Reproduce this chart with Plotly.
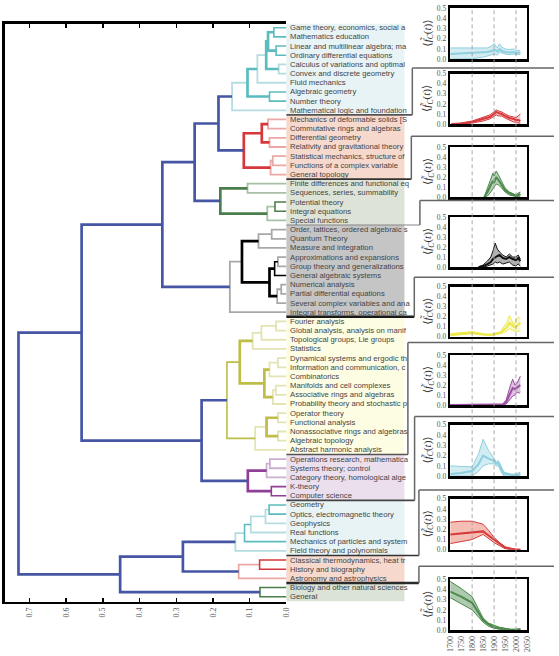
import plotly.graph_objects as go

W, H = 559, 656

# ---------------- data ----------------
leaf_labels = [
    "Game theory, economics, social a", "Mathematics education",
    "Linear and multilinear algebra; ma", "Ordinary differential equations",
    "Calculus of variations and optimal", "Convex and discrete geometry",
    "Fluid mechanics", "Algebraic geometry", "Number theory",
    "Mathematical logic and foundation",
    "Mechanics of deformable solids [S", "Commutative rings and algebras",
    "Differential geometry", "Relativity and gravitational theory",
    "Statistical mechanics, structure of", "Functions of a complex variable",
    "General topology",
    "Finite differences and functional eq", "Sequences, series, summability",
    "Potential theory", "Integral equations", "Special functions",
    "Order, lattices, ordered algebraic s", "Quantum Theory",
    "Measure and integration", "Approximations and expansions",
    "Group theory and generalizations", "General algebraic systems",
    "Numerical analysis", "Partial differential equations",
    "Several complex variables and ana", "Integral transforms, operational ca",
    "Fourier analysis", "Global analysis, analysis on manif",
    "Topological groups, Lie groups", "Statistics",
    "Dynamical systems and ergodic th", "Information and communication, c",
    "Combinatorics", "Manifolds and cell complexes",
    "Associative rings and algebras", "Probability theory and stochastic p",
    "Operator theory", "Functional analysis",
    "Nonassociative rings and algebras", "Algebraic topology",
    "Abstract harmonic analysis",
    "Operations research, mathematica", "Systems theory; control",
    "Category theory, homological alge", "K-theory", "Computer science",
    "Geometry", "Optics, electromagnetic theory", "Geophysics",
    "Real functions", "Mechanics of particles and system",
    "Field theory and polynomials",
    "Classical thermodynamics, heat tr", "History and biography",
    "Astronomy and astrophysics",
    "Biology and other natural sciences", "General",
]
group_sizes = [10, 7, 5, 10, 15, 5, 6, 3, 2]

# linkage: (node name, left child, right child, merge distance)
merges = [
    ("g1a", 0, 1, 0.034), ("g1b", 2, 3, 0.028), ("g1ab", "g1a", "g1b", 0.050),
    ("g1c", 4, 5, 0.021), ("g1abc", "g1ab", "g1c", 0.055),
    ("g1d", "g1abc", 6, 0.079), ("g1e", 7, 8, 0.046),
    ("g1f", "g1d", "g1e", 0.106), ("g1", "g1f", 9, 0.148),
    ("g2a", 10, 11, 0.050), ("g2b", 12, 13, 0.046), ("g2c", "g2a", "g2b", 0.067),
    ("g2d", 14, 15, 0.037), ("g2e", "g2d", 16, 0.043), ("g2", "g2c", "g2e", 0.116),
    ("g3a", 17, 18, 0.106), ("g3b", 19, 20, 0.031), ("g3c", "g3b", 21, 0.052),
    ("g3", "g3a", "g3c", 0.180),
    ("g4a", 22, 23, 0.040), ("g4b", "g4a", 24, 0.076), ("g4c", 25, 26, 0.023),
    ("g4d", "g4c", 27, 0.032), ("g4e", 28, 29, 0.014), ("g4f", "g4e", 30, 0.025),
    ("g4g", "g4d", "g4f", 0.046), ("g4h", "g4b", "g4g", 0.121),
    ("g4", "g4h", 31, 0.154),
    ("g5a", 32, 33, 0.028), ("g5b", "g5a", 34, 0.068), ("g5c", "g5b", 35, 0.092),
    ("g5d", 36, 37, 0.023), ("g5e", "g5d", 38, 0.046), ("g5f", 39, 40, 0.029),
    ("g5g", "g5f", 41, 0.037), ("g5h", "g5e", "g5g", 0.060),
    ("g5i", "g5c", "g5h", 0.127), ("g5j", 42, 43, 0.023), ("g5k", 44, 45, 0.023),
    ("g5l", "g5j", "g5k", 0.054), ("g5m", "g5l", 46, 0.085),
    ("g5", "g5i", "g5m", 0.162),
    ("g6a", 47, 48, 0.045), ("g6b", "g6a", 49, 0.054), ("g6c", 50, 51, 0.041),
    ("g6", "g6b", "g6c", 0.105),
    ("g7a", 52, 53, 0.047), ("g7b", "g7a", 54, 0.057), ("g7c", "g7b", 55, 0.097),
    ("g7d", "g7c", 56, 0.114), ("g7", "g7d", 57, 0.139),
    ("g8a", 58, 59, 0.073), ("g8", "g8a", 60, 0.130),
    ("g9", 61, 62, 0.072),
    ("D", "g1", "g2", 0.185), ("C", "D", "g3", 0.250), ("B", "C", "g4", 0.338),
    ("E", "g5", "g6", 0.231), ("A", "B", "E", 0.558),
    ("G", "g7", "g8", 0.282), ("F", "G", "g9", 0.453),
    ("root", "A", "F", 0.730),
]

dendro_ticks = [0.0, 0.1, 0.2, 0.3, 0.4, 0.5, 0.6, 0.7]
dendro_ticktext = ["0.0", "0.1", "0.2", "0.3", "0.4", "0.5", "0.6", "0.7"]

# time series per cluster: year, mean, lower, upper
p1_year = [1700, 1750, 1800, 1850, 1870, 1890, 1900, 1908, 1915, 1925, 1935, 1950, 1970, 1990, 2000, 2010, 2020]
p1_mean = [0.05, 0.055, 0.06, 0.065, 0.07, 0.08, 0.09, 0.085, 0.075, 0.10, 0.08, 0.07, 0.065, 0.07, 0.06, 0.065, 0.06]
p1_lo = [0.0, 0.0, 0.005, 0.02, 0.03, 0.04, 0.05, 0.045, 0.04, 0.07, 0.06, 0.05, 0.045, 0.05, 0.045, 0.05, 0.045]
p1_hi = [0.11, 0.11, 0.105, 0.105, 0.11, 0.13, 0.155, 0.13, 0.11, 0.15, 0.12, 0.10, 0.095, 0.10, 0.08, 0.09, 0.08]

p2_year = [1705, 1750, 1800, 1850, 1880, 1900, 1910, 1920, 1935, 1950, 1970, 1990, 2000, 2010, 2020]
p2_mean = [0.0, 0.005, 0.02, 0.05, 0.07, 0.10, 0.12, 0.11, 0.10, 0.08, 0.06, 0.05, 0.04, 0.04, 0.03]
p2_lo = [0.0, 0.0, 0.01, 0.03, 0.05, 0.08, 0.09, 0.08, 0.08, 0.06, 0.04, 0.02, 0.02, 0.01, 0.01]
p2_hi = [0.0, 0.01, 0.03, 0.07, 0.09, 0.12, 0.14, 0.13, 0.12, 0.10, 0.08, 0.07, 0.06, 0.08, 0.10]

p3_year = [1855, 1870, 1885, 1895, 1900, 1910, 1920, 1935, 1950, 1970, 1990, 2000, 2010, 2020]
p3_mean = [0.0, 0.05, 0.12, 0.16, 0.14, 0.20, 0.17, 0.12, 0.07, 0.04, 0.02, 0.01, 0.02, 0.03]
p3_lo = [0.0, 0.01, 0.05, 0.09, 0.10, 0.13, 0.12, 0.09, 0.05, 0.02, 0.01, 0.0, 0.0, 0.01]
p3_hi = [0.0, 0.09, 0.19, 0.24, 0.21, 0.26, 0.22, 0.15, 0.09, 0.05, 0.03, 0.02, 0.04, 0.05]

p4_year = [1830, 1850, 1870, 1885, 1895, 1905, 1915, 1925, 1940, 1955, 1970, 1985, 2000, 2010, 2020]
p4_mean = [0.0, 0.01, 0.03, 0.05, 0.08, 0.10, 0.11, 0.12, 0.09, 0.08, 0.10, 0.08, 0.07, 0.09, 0.06]
p4_lo = [0.0, 0.0, 0.01, 0.02, 0.03, 0.05, 0.04, 0.05, 0.03, 0.04, 0.05, 0.02, 0.01, 0.03, 0.01]
p4_hi = [0.0, 0.02, 0.06, 0.10, 0.16, 0.24, 0.18, 0.15, 0.12, 0.10, 0.13, 0.10, 0.10, 0.12, 0.08]

p5_year = [1700, 1750, 1800, 1830, 1860, 1890, 1910, 1930, 1945, 1960, 1970, 1980, 1990, 2000, 2010, 2015, 2020]
p5_mean = [0.02, 0.03, 0.04, 0.03, 0.02, 0.02, 0.03, 0.04, 0.07, 0.10, 0.14, 0.12, 0.10, 0.10, 0.12, 0.13, 0.14]
p5_lo = [0.01, 0.02, 0.03, 0.02, 0.015, 0.015, 0.02, 0.03, 0.04, 0.06, 0.08, 0.07, 0.06, 0.05, 0.06, 0.05, 0.05]
p5_hi = [0.03, 0.04, 0.05, 0.04, 0.025, 0.025, 0.04, 0.05, 0.10, 0.15, 0.21, 0.17, 0.12, 0.16, 0.20, 0.19, 0.18]

p6_year = [1700, 1800, 1900, 1940, 1955, 1965, 1975, 1985, 1995, 2005, 2015, 2020]
p6_mean = [0.0, 0.0, 0.0, 0.005, 0.03, 0.08, 0.13, 0.17, 0.16, 0.18, 0.19, 0.20]
p6_lo = [0.0, 0.0, 0.0, 0.0, 0.01, 0.04, 0.07, 0.09, 0.10, 0.13, 0.12, 0.13]
p6_hi = [0.005, 0.005, 0.005, 0.01, 0.05, 0.13, 0.20, 0.26, 0.20, 0.22, 0.27, 0.29]

p7_year = [1700, 1750, 1800, 1830, 1850, 1875, 1900, 1910, 1920, 1930, 1945, 1960, 1980, 2000, 2020]
p7_mean = [0.02, 0.03, 0.05, 0.12, 0.20, 0.17, 0.15, 0.12, 0.13, 0.08, 0.02, 0.02, 0.01, 0.01, 0.02]
p7_lo = [0.0, 0.0, 0.0, 0.05, 0.10, 0.12, 0.12, 0.10, 0.10, 0.05, 0.0, 0.0, 0.0, 0.0, 0.01]
p7_hi = [0.10, 0.095, 0.09, 0.22, 0.36, 0.25, 0.17, 0.14, 0.15, 0.10, 0.04, 0.03, 0.02, 0.02, 0.04]

p8_year = [1700, 1750, 1800, 1850, 1875, 1900, 1925, 1950, 1975, 2000, 2020]
p8_mean = [0.15, 0.16, 0.17, 0.18, 0.14, 0.10, 0.06, 0.02, 0.01, 0.0, 0.0]
p8_lo = [0.06, 0.08, 0.10, 0.15, 0.11, 0.07, 0.04, 0.01, 0.0, 0.0, 0.0]
p8_hi = [0.27, 0.28, 0.28, 0.25, 0.19, 0.12, 0.07, 0.03, 0.015, 0.005, 0.005]

p9_year = [1700, 1750, 1800, 1825, 1850, 1875, 1900, 1925, 1950, 1975, 2000, 2020]
p9_mean = [0.38, 0.33, 0.27, 0.18, 0.10, 0.06, 0.03, 0.02, 0.01, 0.005, 0.005, 0.01]
p9_lo = [0.32, 0.26, 0.20, 0.14, 0.08, 0.04, 0.02, 0.01, 0.0, 0.0, 0.0, 0.005]
p9_hi = [0.48, 0.41, 0.33, 0.22, 0.12, 0.07, 0.05, 0.03, 0.02, 0.01, 0.01, 0.015]

panel_y_ticks = [0.0, 0.1, 0.2, 0.3, 0.4, 0.5]
panel_y_ticktext = ["0.0", "0.1", "0.2", "0.3", "0.4", "0.5"]
panel_x_ticks = [1700, 1750, 1800, 1850, 1900, 1950, 2000, 2050]
panel_x_ticktext = ["1700", "1750", "1800", "1850", "1900", "1950", "2000", "2050"]
guide_years = [1800, 1900, 2000]

# ---------------- styles ----------------
link_level = {
    "g1a": "m", "g1b": "m", "g1ab": "s", "g1c": "l", "g1abc": "s", "g1d": "l",
    "g1e": "m", "g1f": "s", "g1": "l",
    "g2a": "l", "g2b": "l", "g2c": "s", "g2d": "l", "g2e": "l", "g2": "s",
    "g3a": "l", "g3b": "m", "g3c": "l", "g3": "s",
    "g4a": "l", "g4b": "l", "g4c": "l", "g4d": "m", "g4e": "l", "g4f": "l",
    "g4g": "s", "g4h": "s", "g4": "l",
    "g5a": "l", "g5b": "l", "g5c": "l", "g5d": "l", "g5e": "l", "g5f": "l",
    "g5g": "l", "g5h": "s", "g5i": "s", "g5j": "l", "g5k": "l", "g5l": "s",
    "g5m": "l", "g5": "m",
    "g6a": "l", "g6b": "l", "g6c": "m", "g6": "s",
    "g7a": "m", "g7b": "l", "g7c": "l", "g7d": "m", "g7": "l",
    "g8a": "m", "g8": "l", "g9": "m",
}
group_strong = {1: "#5bbcbf", 2: "#d6373a", 3: "#4a7e4a", 4: "#000000",
                5: "#bdbd47", 6: "#8f3f96", 7: "#5bbcbf", 8: "#d6373a", 9: "#4a7e4a"}
group_light = {1: "#b5dde1", 2: "#eca8a5", 3: "#a8c0a5", 4: "#a8a8a8",
               5: "#e3e3b3", 6: "#ccaed0", 7: "#b5dde1", 8: "#eca8a5", 9: "#a8c0a5"}
top_color = "#4656a5"
label_bg = ["#e8f3f5", "#f6d9cc", "#dde3d6", "#c5c5c5", "#fdfde3",
            "#ebdfee", "#e8f3f5", "#f6d9cc", "#dbe2d6"]

panel_line = ["#8ecfdf", "#d63a3c", "#4c8a4b", "#111111", "#ece84a",
              "#9c4fa1", "#8ecfdf", "#d63a3c", "#4c8a4b"]
panel_fill = ["rgba(142,207,223,0.40)", "rgba(214,58,60,0.28)", "rgba(76,138,75,0.40)",
              "rgba(0,0,0,0.30)", "rgba(236,232,74,0.30)", "rgba(156,79,161,0.35)",
              "rgba(142,207,223,0.40)", "rgba(232,110,90,0.45)", "rgba(76,138,75,0.45)"]
# panel pixel boxes (top, bottom)
panel_px = [(4, 56), (70.7, 121.7), (145, 195.7), (216, 266.7), (286.7, 337.3),
            (356, 406.7), (426.7, 478.7), (501.7, 553.3), (583.3, 635)]
panel_x_px = (453.5, 531.5)
gap_px = [65, 134, 199.3, 277, 343.3, 418.3, 492.7, 570]
conn_x_px = [415, 414, 422.7, 417, 410.5, 417.3, 421.7, 421.7]
conn_style = [("#555555", 1.6), ("#333333", 1.6), ("#888888", 1.2), ("#1a1a1a", 2.4),
              ("#555555", 1.6), ("#444444", 1.6), ("#333333", 1.6), ("#2a2a2a", 2.6)]

# dendrogram axes placement
d_x_px = (1, 287)
d_y_px = (20, 606)
d_xrange = [0.7668, 0.0]
d_yrange = [62.54, -0.43]


def px(x):
    return x / W


def py(y):
    return (H - y) / H


fig = go.Figure()

# ---------------- dendrogram ----------------
pos = {i: (0.0, float(i)) for i in range(len(leaf_labels))}
segs = {}
for name, l, r, h in merges:
    xl, yl = pos[l]
    xr, yr = pos[r]
    pos[name] = (h, (yl + yr) / 2.0)
    if name in link_level:
        g = int(name[1])
        lev = link_level[name]
        if lev == "l":
            key = (0, group_light[g], 1.8)
        elif lev == "m":
            key = (1, group_strong[g], 1.6)
        else:
            key = (2, group_strong[g], 2.7)
    else:
        key = (3, top_color, 2.7)
    xs, ys = segs.setdefault(key, ([], []))
    xs += [xl, h, h, xr, None]
    ys += [yl, yl, yr, yr, None]

for key in sorted(segs.keys(), key=lambda k: k[0]):
    xs, ys = segs[key]
    fig.add_trace(go.Scatter(x=xs, y=ys, mode="lines", xaxis="x", yaxis="y",
                             line=dict(color=key[1], width=key[2]),
                             hoverinfo="skip", showlegend=False))

# ---------------- panels ----------------
series = [
    (p1_year, p1_mean, p1_lo, p1_hi), (p2_year, p2_mean, p2_lo, p2_hi),
    (p3_year, p3_mean, p3_lo, p3_hi), (p4_year, p4_mean, p4_lo, p4_hi),
    (p5_year, p5_mean, p5_lo, p5_hi), (p6_year, p6_mean, p6_lo, p6_hi),
    (p7_year, p7_mean, p7_lo, p7_hi), (p8_year, p8_mean, p8_lo, p8_hi),
    (p9_year, p9_mean, p9_lo, p9_hi),
]
for k, (yr, mn, lo, hi) in enumerate(series):
    xa, ya = f"x{k + 2}", f"y{k + 2}"
    fig.add_trace(go.Scatter(x=yr, y=hi, mode="lines", xaxis=xa, yaxis=ya,
                             line=dict(color=panel_line[k], width=1),
                             hoverinfo="skip", showlegend=False))
    fig.add_trace(go.Scatter(x=yr, y=lo, mode="lines", xaxis=xa, yaxis=ya,
                             line=dict(color=panel_line[k], width=1),
                             fill="tonexty", fillcolor=panel_fill[k],
                             hoverinfo="skip", showlegend=False))
    fig.add_trace(go.Scatter(x=yr, y=mn, mode="lines", xaxis=xa, yaxis=ya,
                             line=dict(color=panel_line[k], width=2),
                             hoverinfo="skip", showlegend=False))

serif = "Liberation Serif, DejaVu Serif, serif"
layout = dict(
    width=W, height=H, margin=dict(l=0, r=0, t=0, b=0),
    paper_bgcolor="white", plot_bgcolor="rgba(0,0,0,0)",
    showlegend=False, hovermode=False,
    xaxis=dict(domain=[px(d_x_px[0]), px(d_x_px[1])], range=d_xrange,
               showgrid=False, zeroline=False, showline=True, linecolor="black",
               linewidth=2.5, mirror="ticks", ticks="inside", ticklen=4,
               tickwidth=1.5, tickcolor="black", tickvals=dendro_ticks,
               ticktext=dendro_ticktext, tickangle=-90,
               tickfont=dict(family=serif, size=8, color="#555555"), anchor="y"),
    yaxis=dict(domain=[py(d_y_px[1]), py(d_y_px[0])], range=d_yrange,
               showgrid=False, zeroline=False, showline=True, linecolor="black",
               linewidth=2.5, showticklabels=False, ticks="", anchor="x"),
)
for k in range(9):
    top, bot = panel_px[k]
    layout[f"xaxis{k + 2}"] = dict(
        domain=[px(panel_x_px[0]), px(panel_x_px[1])], range=[1700, 2050],
        anchor=f"y{k + 2}", showgrid=False, zeroline=False, showline=True,
        linecolor="black", linewidth=2.5, mirror=True, ticks="",
        tickvals=panel_x_ticks, ticktext=panel_x_ticktext, tickangle=-90,
        showticklabels=(k == 8),
        tickfont=dict(family=serif, size=8, color="#555555"))
    layout[f"yaxis{k + 2}"] = dict(
        domain=[py(bot), py(top)], range=[0, 0.5], anchor=f"x{k + 2}",
        showgrid=False, zeroline=False, showline=True, linecolor="black",
        linewidth=2.5, mirror=True, ticks="", tickvals=panel_y_ticks,
        ticktext=panel_y_ticktext,
        tickfont=dict(family=serif, size=7.5, color="#555555"))
fig.update_layout(**layout)

shapes = []
annotations = []

# label backgrounds and text
start = 0
for g, n in enumerate(group_sizes):
    shapes.append(dict(type="rect", xref="paper", yref="y",
                       x0=px(287), x1=px(407), y0=start - 0.5, y1=start + n - 0.5,
                       fillcolor=label_bg[g], line=dict(width=0), layer="below"))
    start += n
for i, lab in enumerate(leaf_labels):
    annotations.append(dict(text=lab, x=px(289), y=i, xref="paper", yref="y",
                            xanchor="left", yanchor="middle", showarrow=False,
                            font=dict(family="Liberation Sans, Arial, sans-serif",
                                      size=7.7, color="#444444")))


def leaf_to_paper(v):
    d0, d1 = py(d_y_px[1]), py(d_y_px[0])
    return d0 + (d_yrange[0] - v) / (d_yrange[0] - d_yrange[1]) * (d1 - d0)


# connectors
cum = 0
for b in range(8):
    cum += group_sizes[b]
    yb = cum - 0.5
    col, wid = conn_style[b]
    vx = px(conn_x_px[b])
    shapes.append(dict(type="line", xref="paper", yref="y", x0=px(287), x1=vx,
                       y0=yb, y1=yb, line=dict(color=col, width=wid), layer="above"))
    shapes.append(dict(type="line", xref="paper", yref="paper", x0=vx, x1=vx,
                       y0=leaf_to_paper(yb), y1=py(gap_px[b]),
                       line=dict(color="#666666", width=1.5), layer="above"))
    shapes.append(dict(type="line", xref="paper", yref="paper", x0=vx, x1=1.0,
                       y0=py(gap_px[b]), y1=py(gap_px[b]),
                       line=dict(color="#666666", width=1.5), layer="above"))

# dashed guides
for yv in guide_years:
    shapes.append(dict(type="line", xref="x10", yref="paper", x0=yv, x1=yv,
                       y0=py(panel_px[8][1]), y1=py(panel_px[0][0]),
                       line=dict(color="#a0a0a0", width=0.9, dash="4px,3px"),
                       layer="above"))

# y titles
for k in range(9):
    top, bot = panel_px[k]
    annotations.append(dict(
        text="⟨<i>f̃</i><sub><i>C</i></sub>(<i>t</i>)⟩", x=px(431), y=py((top + bot) / 2),
        xref="paper", yref="paper", xanchor="center", yanchor="middle",
        textangle=-90, showarrow=False,
        font=dict(family=serif, size=11, color="#333333")))

fig.update_layout(shapes=shapes, annotations=annotations)
fig.write_html(
    "out.html",
    config={"displayModeBar": False, "staticPlot": True},
    post_script="document.body.style.margin='0';document.body.style.padding='0';"
                "document.body.style.overflow='hidden';",
)
